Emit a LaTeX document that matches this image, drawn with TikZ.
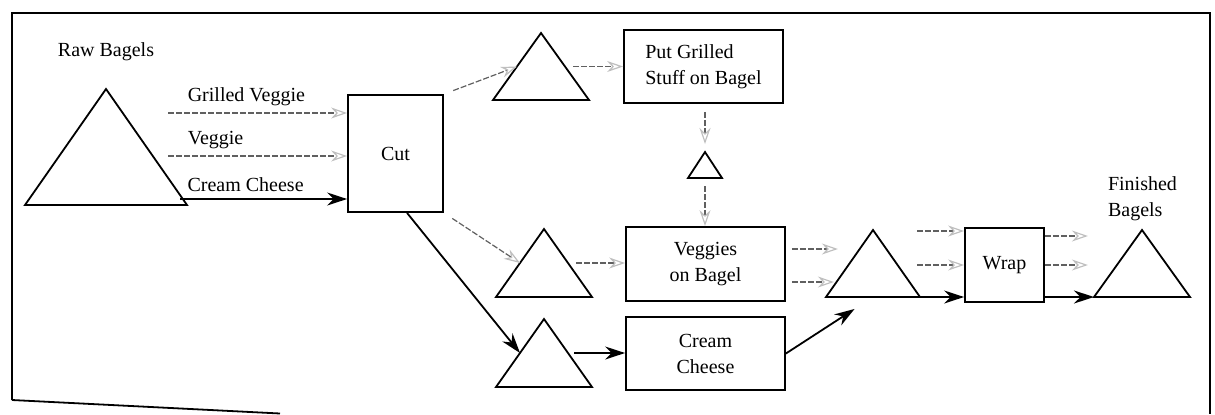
\documentclass[tikz,border=0pt]{standalone}
\usepackage{fontspec}
\setmainfont{Liberation Serif}
\usetikzlibrary{arrows.meta,shapes.geometric}
\tikzset{
	box/.style={draw, line width=0.9pt, inner sep=2pt, align=center, font=\fontsize{10}{13}\selectfont},
	tri/.style 2 args={draw, line width=0.9pt, isosceles triangle, isosceles triangle stretches,
			shape border rotate=90, inner sep=0pt, outer sep=0pt,
			minimum width=#1, minimum height=#2, anchor=lower side},
	flowk/.style={line width=0.9pt, -{Stealth[length=10pt, width=6.5pt]}},
	flowg/.style={gray!75!black, dash pattern=on 3pt off 1pt, line width=0.6pt,
			-{Stealth[open, length=8pt, width=5.5pt, color=gray!50]}},
	lbl/.style={text=black, font=\fontsize{10}{13}\selectfont, align=left}
}

\begin{document}
\begin{tikzpicture}[x=0.5pt, y=-0.5pt]
			\useasboundingbox (0, 0) rectangle (1215, 414);
			\draw[line width=0.9pt]	(12, 400) -- (12, 13) -- (1210, 13) -- (1210, 414);
			\draw[line width=0.9pt]	(12, 400) -- (280, 413.5);

			\node[tri={81pt}{58pt}]		(raw) at (106, 205) {};
			\node[tri={48pt}{33.5pt}]	(t1) at (541, 100) {};
			\node[tri={17pt}{13pt}]		(ts) at (705, 178) {};
			\node[tri={48pt}{34pt}]		(t2) at (544, 297) {};
			\node[tri={48pt}{34pt}]		(t3) at (544, 387) {};
			\node[tri={47pt}{33.5pt}]	(t4) at (873, 297) {};
			\node[tri={48pt}{33.5pt}]	(t5) at (1142, 297) {};

			\node[box, minimum width=47.5pt, minimum height=58.5pt]	(cut) at (395.5, 153.5) {Cut};
			\node[box, align=left, minimum width=79.5pt, minimum height=36.5pt]	(put) at (703.5, 66.5) {Put Grilled\\Stuff on Bagel};
			\node[box, minimum width=79.5pt, minimum height=37pt]	(veg) at (705.5, 264) {Veggies\\on Bagel};
			\node[box, minimum width=79.5pt, minimum height=36.5pt]	(cream) at (705.5, 353.5) {Cream\\Cheese};
			\node[box, minimum width=39.5pt, minimum height=37pt]	(wrap) at (1004.5, 265) {Wrap};

			\node[lbl]	(rawlbl) at (106, 52) {Raw Bagels};
			\node[lbl]	(finlbl) at (1142.5, 199) {Finished\\Bagels};

			\coordinate (gvs) at (168, 113);
			\coordinate (vs) at (168, 156);
			\coordinate (ccs) at (180, 199);
			\draw[flowg]	(gvs) -- (gvs -| cut.west) node[lbl, pos=0.07, above right]{Grilled Veggie};
			\draw[flowg]	(vs) -- (vs -| cut.west) node[lbl, pos=0.07, above right]{Veggie};
			\draw[flowk]	(ccs) -- (ccs -| cut.west) node[lbl, pos=0, above right]{Cream Cheese};

			\draw[flowg, shorten <=5pt]	(cut.north east) -- (t1.left side);
			\draw[flowg, shorten <=4pt]	(t1.right side) -- (put.west);
			\draw[flowg, shorten <=4pt, shorten >=4pt]	(put.south -| ts.apex) -- (ts.apex);
			\draw[flowg, shorten <=4pt]	(ts.lower side) -- (ts.lower side |- veg.north);
			\draw[flowg, shorten <=5pt]	(cut.south east) -- (t2.left side);
			\draw[flowg, shorten <=4pt]	(t2.right side) -- (t2.right side -| veg.west);
			\draw[flowk]	(cut.-79) -- (t3.left side);
			\draw[flowk, shorten <=3pt]	(t3.right side) -- (t3.right side -| cream.west);

			\draw[flowg]	([xshift=3pt, yshift=7.5pt]veg.east) -- ([xshift=26pt, yshift=7.5pt]veg.east);
			\draw[flowg]	([xshift=3pt, yshift=-9pt]veg.east) -- ([xshift=24pt, yshift=-9pt]veg.east);
			\draw[flowk, shorten >=11pt]	(cream.east) -- (t4.lower side);

			\draw[flowg]	([xshift=-23.5pt, yshift=17pt]wrap.west) -- ([yshift=17pt]wrap.west);
			\draw[flowg]	([xshift=-23.5pt]wrap.west) -- (wrap.west);
			\draw[flowk]	(t4.right corner) -- (t4.right corner -| wrap.west);

			\draw[flowg]	([yshift=14.5pt]wrap.east) -- ([xshift=21.5pt, yshift=14.5pt]wrap.east);
			\draw[flowg]	(wrap.east) -- ([xshift=21.5pt]wrap.east);
			\draw[flowk]	(wrap.east |- t5.left corner) -- (t5.left corner);
		\end{tikzpicture}
\end{document}
